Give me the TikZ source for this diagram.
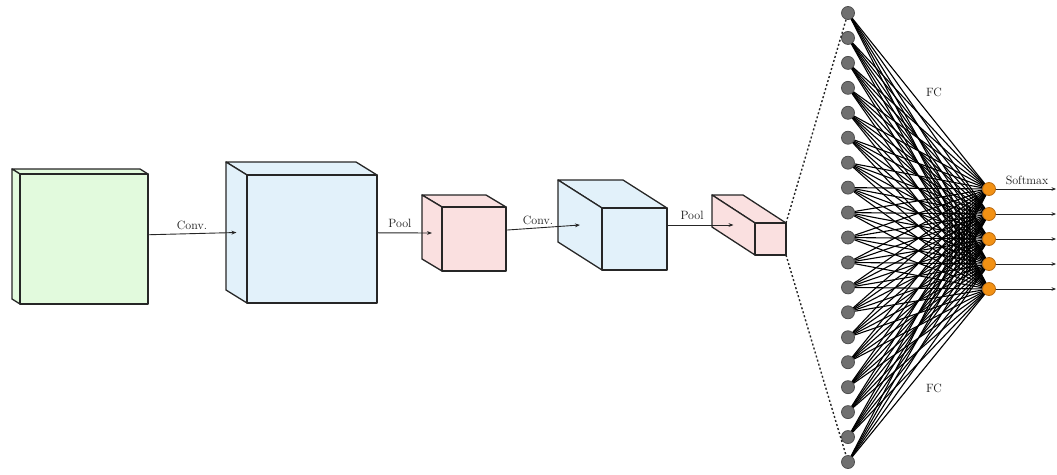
\documentclass[tikz,border=0pt]{standalone}
\usetikzlibrary{arrows.meta}

\definecolor{mapgreen}{RGB}{226,250,221}
\definecolor{mapblue}{RGB}{226,241,250}
\definecolor{mappink}{RGB}{250,224,224}
\definecolor{neurongray}{RGB}{112,112,112}
\definecolor{neuronedge}{RGB}{78,78,78}
\definecolor{outorange}{RGB}{242,145,20}
\definecolor{outedge}{RGB}{185,105,15}

% anchors of a feature map drawn as a cuboid
% #1 name, (#2,#3) front top-left, (#4,#5) front bottom-right, (#6,#7) depth offset
\newcommand\mapanchors[7]{%
  \coordinate (#1-c) at ({(#2+#4+#6)/2},{(#3+#5+#7)/2});
  \coordinate (#1-s) at ({#2+#6/2},{(#3+#5+#7)/2});
  \coordinate (#1-tr) at (#4,#3);
  \coordinate (#1-br) at (#4,#5);
}
% the cuboid itself; #8 is the fill colour
\newcommand\mapdraw[8]{%
  \filldraw[boxline, fill=#8] (#2,#3) -- ++(#6,#7) -- ++({#4-#2},0) -- (#4,#3) -- cycle;
  \filldraw[boxline, fill=#8] (#2,#3) -- ++(#6,#7) -- ++(0,{#5-#3}) -- (#2,#5) -- cycle;
  \filldraw[boxline, fill=#8, line width=1.6pt] (#2,#3) rectangle (#4,#5);
}

\tikzset{
  boxline/.style={draw=black!85, line width=1.3pt, line join=round},
  flow/.style={draw=black!85, line width=0.9pt, -{Stealth[length=5pt,width=3.8pt]}},
  lbl/.style={font=\fontsize{12}{14}\selectfont, inner sep=0pt, text=black!90},
  hidden/.style={circle, minimum size=13pt, inner sep=0pt, fill=neurongray, draw=neuronedge, line width=0.8pt},
  output/.style={circle, minimum size=13pt, inner sep=0pt, fill=outorange, draw=outedge, line width=0.8pt},
  weight/.style={draw=black, line width=1.1pt},
  fan/.style={draw=black!85, line width=1.4pt, dash pattern=on 2pt off 2.2pt},
}

\begin{document}
\begin{tikzpicture}[x=1pt, y=-1pt]
\useasboundingbox (0,0) rectangle (1057,474);

% fully connected part
\foreach \i in {1,...,19}
  \node[hidden] (g\i) at (848,{13+(\i-1)*449/18}) {};
\foreach \j in {1,...,5} {
  \node[output] (o\j) at (989,{189+(\j-1)*25}) {};
  \coordinate (s\j) at (1056,{189+(\j-1)*25});
}
\foreach \i in {1,...,19}
  \foreach \j in {1,...,5}
    \draw[weight] (g\i) -- (o\j);
\foreach \j in {1,...,5}
  \draw[draw=black!85, line width=0.8pt, -{Stealth[length=4.5pt,width=3.6pt]}] (o\j) -- (s\j);

\node[lbl] (fc1) at (934,92) {FC};
\node[lbl] (fc2) at (934,388) {FC};
\node[lbl] (smx) at (1027,180) {Softmax};

% feature maps
\mapanchors{m1}{20}{174}{148}{304}{-8}{-5}
\mapanchors{m2}{247}{175}{377}{303}{-21}{-13}
\mapanchors{m3}{442}{207}{506}{271}{-20}{-12}
\mapanchors{m4}{602}{208}{667}{270}{-44}{-28}
\mapanchors{m5}{755}{223}{786}{255}{-43}{-28}

% drawn back to front so that each arrow starts behind its map
\mapdraw{m5}{755}{223}{786}{255}{-43}{-28}{mappink}
\draw[fan] (m5-tr) -- (g1);
\draw[fan] (m5-br) -- (g19);
\draw[flow] (m4-c) -- (m5-s);
\mapdraw{m4}{602}{208}{667}{270}{-44}{-28}{mapblue}
\draw[flow] (m3-c) -- (m4-s);
\mapdraw{m3}{442}{207}{506}{271}{-20}{-12}{mappink}
\draw[flow] (m2-c) -- (m3-s);
\mapdraw{m2}{247}{175}{377}{303}{-21}{-13}{mapblue}
\draw[flow] (m1-c) -- (m2-s);
\mapdraw{m1}{20}{174}{148}{304}{-8}{-5}{mapgreen}

\node[lbl] (conv1) at (192,225) {Conv.};
\node[lbl] (pool1) at (400,223) {Pool};
\node[lbl] (conv2) at (538,220) {Conv.};
\node[lbl] (pool2) at (692,215) {Pool};
\end{tikzpicture}
\end{document}
